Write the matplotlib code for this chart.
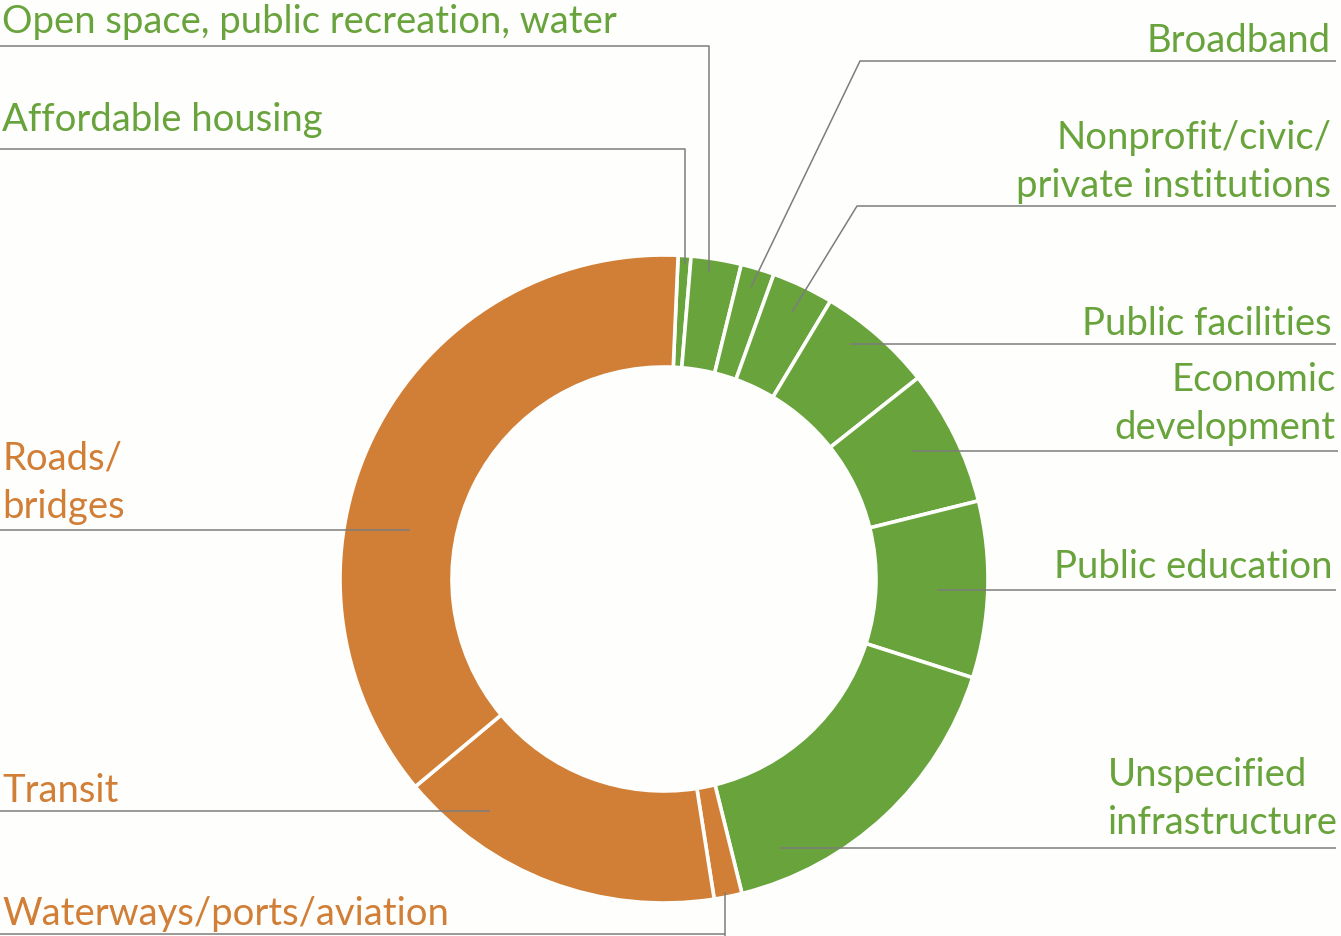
import matplotlib
matplotlib.use("Agg")
import matplotlib.pyplot as plt

# ---- data ----
categories = ["Affordable housing", "Open space, public recreation, water", "Broadband",
              "Nonprofit/civic/\nprivate institutions", "Public facilities",
              "Economic\ndevelopment", "Public education", "Unspecified\ninfrastructure",
              "Waterways/ports/aviation", "Transit", "Roads/\nbridges"]
shares = [0.64, 2.5, 1.67, 3.08, 5.75, 6.78, 8.8, 16.2, 1.39, 16.4, 36.75]
groups = ["green", "green", "green", "green", "green", "green", "green", "green",
          "orange", "orange", "orange"]

W, H = 1341, 937
BG = "#FEFEFC"
GREEN = "#68A33C"
ORANGE = "#D17E36"
LINE = "#7d7d7d"
colors = {"green": GREEN, "orange": ORANGE}

fig = plt.figure(figsize=(W / 100, H / 100), dpi=100, facecolor=BG)
ax = fig.add_axes([0, 0, 1, 1])
ax.set_facecolor(BG)

def Y(y):
    return H - y

cx, cy, R, r_in = 664, 580, 324, 212
ax.pie(shares, colors=[colors[g] for g in groups], startangle=87.5, counterclock=False,
       radius=R, center=(cx, Y(cy)),
       wedgeprops=dict(width=R - r_in, edgecolor=BG, linewidth=2.6))
ax.set_xlim(0, W)
ax.set_ylim(0, H)
ax.set_aspect("equal")
ax.axis("off")

FONT = "Lato"
FS = 27.5

def leader(pts):
    xs = [p[0] for p in pts]
    ys = [Y(p[1]) for p in pts]
    ax.plot(xs, ys, color=LINE, lw=1.1, solid_capstyle="butt", zorder=5)

def label(txt, x, y, ha, color):
    # y is the baseline of the last line
    ax.text(x, Y(y), txt, ha=ha, va="baseline", color=color, fontsize=FS,
            family=FONT, linespacing=1.43, multialignment=ha, zorder=6)

label(categories[1], 2, 33, "left", GREEN)
leader([(0, 47), (709, 47), (709, 273)])

label(categories[0], 2, 131, "left", GREEN)
leader([(0, 150), (685, 150), (685, 265)])

label(categories[2], 1331, 52, "right", GREEN)
leader([(1336, 62), (860, 62), (751, 288)])

label(categories[3], 1331, 197, "right", GREEN)
leader([(1336, 207), (857, 207), (792, 313)])

label(categories[4], 1332, 335, "right", GREEN)
leader([(1336, 345), (850, 345)])

label(categories[5], 1336, 439, "right", GREEN)
leader([(1338, 452), (912, 452)])

label(categories[6], 1333, 578, "right", GREEN)
leader([(1336, 591), (937, 591)])

label(categories[7], 1108, 834, "left", GREEN)
leader([(1336, 849), (780, 849)])

label(categories[8], 2, 925, "left", ORANGE)
leader([(0, 935), (725, 935)])
leader([(725, 937), (725, 893)])

label(categories[9], 2, 802, "left", ORANGE)
leader([(0, 812), (490, 812)])

label(categories[10], 2, 518, "left", ORANGE)
leader([(0, 531), (410, 531)])

fig.savefig("out.png", dpi=100, facecolor=BG)
